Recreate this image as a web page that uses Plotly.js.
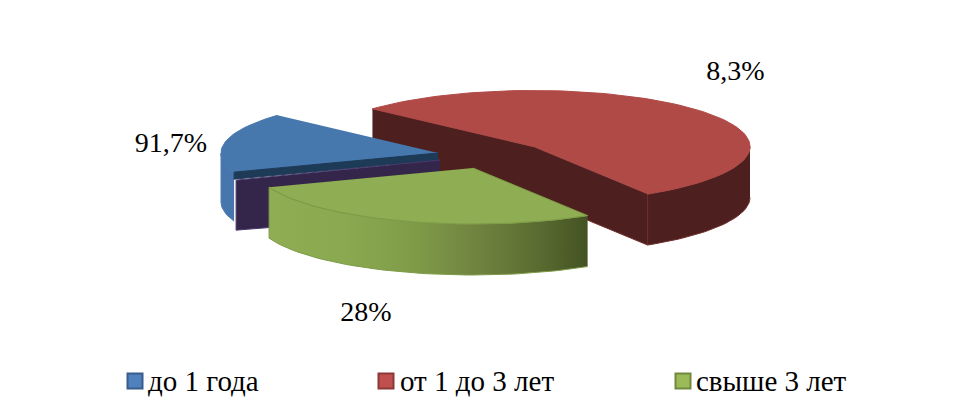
<!DOCTYPE html>
<html><head><meta charset="utf-8">
<script src="https://cdn.plot.ly/plotly-3.0.1.min.js"></script>
<style>html,body{margin:0;padding:0;background:#fff}#c{width:958px;height:417px}</style>
</head><body><div id="c"></div>
<script>
// Data
const categories = ["до 1 года", "от 1 до 3 лет", "свыше 3 лет"];
const shares = [17.3, 54.4, 28.3];          // drawn sector sizes, % of the circle
const labels = ["91,7%", "8,3%", "28%"];    // printed labels

// Look of the chart (pixel-range axes)
const startAngle = 250, rx = 217, ry = 56, depth = 51;
const centres = [[438, 153], [533, 146.5], [473, 168]];
const labelPos = [[171, 144.5], [735.5, 72.5], [366, 313.5]];
const swatchPos = [[135, 381], [386, 381], [683, 381]];
const legendTextPos = [[148, 383.5], [400, 383.5], [696, 383.5]];
const topFill = ["#4677ad", "#af4a47", "#8fad52"];
const swatchFill = ["#4f81bd", "#c0504d", "#9bbb59"];
const swatchLine = ["#385d8a", "#8c3836", "#71893f"];
const FONT = "Liberation Serif, Times New Roman, serif";

const rad = d => d * Math.PI / 180;
const pt = (c, a, dy = 0) => [c[0] + rx * Math.sin(rad(a)), c[1] - ry * Math.cos(rad(a)) + dy];
function arc(c, a0, a1, dy = 0) {
  const n = Math.max(2, Math.ceil(Math.abs(a1 - a0) / 2)), out = [];
  for (let i = 0; i <= n; i++) out.push(pt(c, a0 + (a1 - a0) * i / n, dy));
  return out;
}
function poly(points, fill, line, extra) {
  return Object.assign({
    x: points.map(p => p[0]), y: points.map(p => p[1]), type: "scatter", mode: "lines",
    fill: "toself", fillcolor: fill, line: {color: line, width: 1},
    hoverinfo: "skip", showlegend: false
  }, extra || {});
}
const rev = a => a.slice().reverse();

let a = startAngle;
const sect = shares.map((s, i) => { const r = {a0: a, a1: a + s * 3.6, c: centres[i]}; a = r.a1; return r; });
const traces = [];

// red slice
{
  const {a0, a1, c} = sect[1];
  const e0 = pt(c, a0), e1 = pt(c, a1);
  traces.push(poly([e0, c, [c[0], c[1] + depth], [e0[0], e0[1] + depth]], "#4e1f1f", "#4e1f1f"));
  traces.push(poly([c, e1, [e1[0], e1[1] + depth], [c[0], c[1] + depth]], "#4e1f1f", "#702f2d"));
  const w = arc(c, 450, a1);
  traces.push(poly(w.concat(rev(arc(c, 450, a1, depth))), "#4e1f1f", "#702f2d"));
  traces.push(poly([c].concat(arc(c, a0, a1)), topFill[1], topFill[1]));
}
// blue slice
{
  const {a0, a1, c} = sect[0];
  const e0 = pt(c, a0);
  traces.push(poly(arc(c, a0, 270).concat(rev(arc(c, a0, 270, depth - 2))), "#4676ab", "#4f7fb5"));
  traces.push(poly([c].concat(arc(c, a0, a1)), topFill[0], topFill[0]));
  traces.push(poly([c, e0, [e0[0], e0[1] + 7], [c[0], c[1] + 7]], "#1d3a57", "#1d3a57"));
  const s = [c[0] + 2, c[1] + 7], t = [e0[0] + 2, e0[1] + 8];
  traces.push(poly([s, t, [t[0], t[1] + 50], [s[0], s[1] + 54]], "#33264a", "#4a3a6e"));
}
// green slice
{
  const {a0, a1, c} = sect[2];
  const outer = arc(c, a0, a1);
  traces.push(poly(outer.concat(rev(arc(c, a0, a1, depth))), "#8fad52", "#7f9b48", {
    fillgradient: {type: "horizontal", colorscale: [
      [0, "#8fad52"], [0.25, "#8aa84f"], [0.47, "#7e9a48"], [0.66, "#6f823f"], [0.82, "#5d7033"], [1, "#445223"]
    ]}
  }));
  traces.push(poly([c].concat(outer), topFill[2], "#7f9b48"));
}
// printed labels
traces.push({
  x: labelPos.map(p => p[0]), y: labelPos.map(p => p[1]), text: labels, type: "scatter", mode: "text",
  textposition: "middle center", textfont: {family: FONT, size: 28, color: "#000"},
  hoverinfo: "skip", showlegend: false, name: "labels"
});
// legend entries, spaced unevenly as in the picture
categories.forEach((name, i) => {
  traces.push({
    x: [swatchPos[i][0]], y: [swatchPos[i][1]], name, type: "scatter", mode: "markers",
    marker: {symbol: "square", size: 15, color: swatchFill[i], line: {color: swatchLine[i], width: 2}},
    hoverinfo: "skip", showlegend: false
  });
  traces.push({
    x: [legendTextPos[i][0]], y: [legendTextPos[i][1]], text: [name], name, type: "scatter", mode: "text",
    textposition: "middle right", textfont: {family: FONT, size: 29, color: "#000"},
    hoverinfo: "skip", showlegend: false
  });
});

Plotly.newPlot("c", traces, {
  width: 958, height: 417, margin: {l: 0, r: 0, t: 0, b: 0},
  paper_bgcolor: "#fff", plot_bgcolor: "#fff", showlegend: false,
  xaxis: {range: [0, 958], visible: false, fixedrange: true},
  yaxis: {range: [417, 0], visible: false, fixedrange: true}
}, {displayModeBar: false, staticPlot: true});
</script></body></html>
